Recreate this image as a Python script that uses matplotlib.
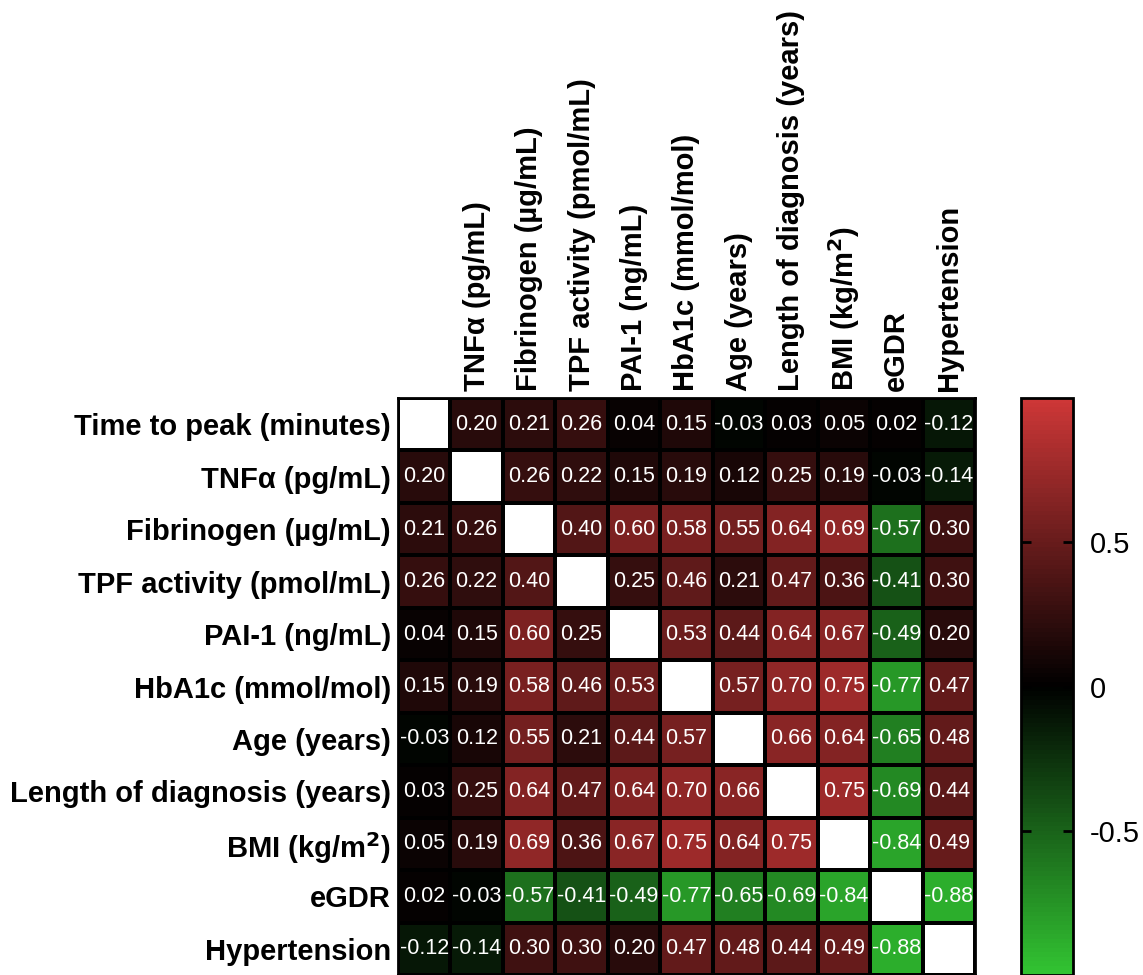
import numpy as np
import matplotlib
matplotlib.use('Agg')
import matplotlib.pyplot as plt
from matplotlib import font_manager as fm
from matplotlib.colors import LinearSegmentedColormap

# Helvetica-like look: use the Liberation Sans files directly
for f in fm.findSystemFonts():
    if 'LiberationSans-' in f:
        fm.fontManager.addfont(f)
reg = [f.fname for f in fm.fontManager.ttflist if f.fname.endswith('LiberationSans-Regular.ttf')]
bold = [f.fname for f in fm.fontManager.ttflist if f.fname.endswith('LiberationSans-Bold.ttf')]
fp_reg = fm.FontProperties(fname=reg[0]) if reg else fm.FontProperties(family='DejaVu Sans')
fp_bold = fm.FontProperties(fname=bold[0]) if bold else fm.FontProperties(family='DejaVu Sans', weight='bold')
plt.rcParams['mathtext.fontset'] = 'custom'
plt.rcParams['mathtext.bf'] = 'Liberation Sans:bold'

# variable names (rows top to bottom, columns left to right)
row_labels = ['Time to peak (minutes)', 'TNFα (pg/mL)', 'Fibrinogen (µg/mL)',
              'TPF activity (pmol/mL)', 'PAI-1 (ng/mL)', 'HbA1c (mmol/mol)',
              'Age (years)', 'Length of diagnosis (years)', 'BMI (kg/m$^{\\mathbf{2}}$)',
              'eGDR', 'Hypertension']
# the first column has no label in the original
col_labels = [''] + row_labels[1:]

# correlation matrix, diagonal left blank
corr = [
    [np.nan, 0.20, 0.21, 0.26, 0.04, 0.15, -0.03, 0.03, 0.05, 0.02, -0.12],
    [0.20, np.nan, 0.26, 0.22, 0.15, 0.19, 0.12, 0.25, 0.19, -0.03, -0.14],
    [0.21, 0.26, np.nan, 0.40, 0.60, 0.58, 0.55, 0.64, 0.69, -0.57, 0.30],
    [0.26, 0.22, 0.40, np.nan, 0.25, 0.46, 0.21, 0.47, 0.36, -0.41, 0.30],
    [0.04, 0.15, 0.60, 0.25, np.nan, 0.53, 0.44, 0.64, 0.67, -0.49, 0.20],
    [0.15, 0.19, 0.58, 0.46, 0.53, np.nan, 0.57, 0.70, 0.75, -0.77, 0.47],
    [-0.03, 0.12, 0.55, 0.21, 0.44, 0.57, np.nan, 0.66, 0.64, -0.65, 0.48],
    [0.03, 0.25, 0.64, 0.47, 0.64, 0.70, 0.66, np.nan, 0.75, -0.69, 0.44],
    [0.05, 0.19, 0.69, 0.36, 0.67, 0.75, 0.64, 0.75, np.nan, -0.84, 0.49],
    [0.02, -0.03, -0.57, -0.41, -0.49, -0.77, -0.65, -0.69, -0.84, np.nan, -0.88],
    [-0.12, -0.14, 0.30, 0.30, 0.20, 0.47, 0.48, 0.44, 0.49, -0.88, np.nan],
]

data = np.ma.masked_invalid(np.array(corr))
n = data.shape[0]

# green - black - red
cmap = LinearSegmentedColormap.from_list(
    'grb', [(50/255, 195/255, 50/255), (0, 0, 0), (205/255, 55/255, 55/255)], N=128)
cmap.set_bad('white')

fig = plt.figure(figsize=(11.43, 9.75), dpi=100)
ax = fig.add_axes([398/1143, 0, 577/1143, 577/975])
cax = fig.add_axes([1021/1143, 0, 52/1143, 577/975])

mesh = ax.pcolormesh(np.arange(n + 1), np.arange(n + 1), data, cmap=cmap,
                     vmin=-1, vmax=1, edgecolors='black', linewidth=1.5)
ax.set_xlim(0, n)
ax.set_ylim(n, 0)

# numbers in cells
for i in range(n):
    for j in range(n):
        if not np.isnan(corr[i][j]):
            ax.text(j + 0.5, i + 0.5, f'{corr[i][j]:.2f}', ha='center', va='center',
                    color='white', fontproperties=fp_reg, fontsize=15.5)

ax.xaxis.tick_top()
ax.set_xticks(np.arange(n) + 0.5)
ax.set_xticklabels(col_labels, rotation=90, fontproperties=fp_bold, fontsize=21)
ax.set_yticks(np.arange(n) + 0.5)
ax.set_yticklabels(row_labels, fontproperties=fp_bold, fontsize=21)
ax.tick_params(length=0, pad=5)
for s in ax.spines.values():
    s.set_linewidth(2)

cb = fig.colorbar(mesh, cax=cax, ticks=[-0.5, 0, 0.5])
cb.ax.set_yticklabels(['-0.5', '0', '0.5'], fontproperties=fp_reg, fontsize=21)
cb.ax.tick_params(direction='in', length=7, width=2, pad=12, left=True, right=True)
cb.outline.set_linewidth(2)

fig.savefig('out.png', dpi=100)
